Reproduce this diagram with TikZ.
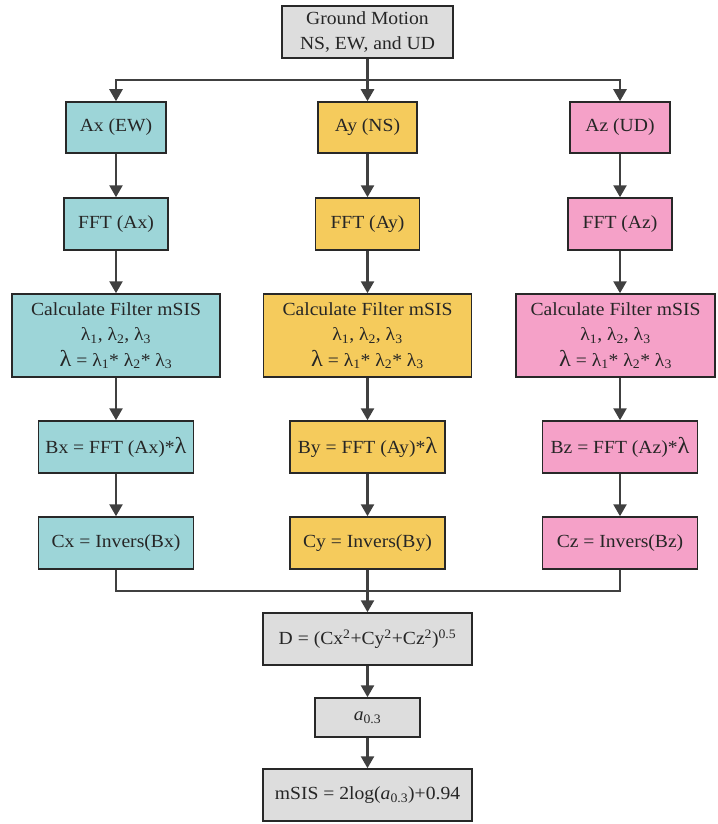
\documentclass[tikz,border=0pt]{standalone}
\usepackage{fontspec}
\setmainfont[FakeStretch=1.06]{Liberation Serif}
\usetikzlibrary{arrows.meta}
\definecolor{cteal}{RGB}{157,213,216}
\definecolor{cyell}{RGB}{245,203,92}
\definecolor{cpink}{RGB}{245,161,200}
\definecolor{cgray}{RGB}{221,221,221}
\definecolor{cline}{RGB}{64,64,64}
\definecolor{cbord}{RGB}{40,40,40}
\newcommand{\biglam}{{\fontsize{23}{23}\selectfont λ}}
\begin{document}
\begin{tikzpicture}[x=1pt,y=-1pt,
  box/.style={draw=cbord,line width=1.5pt,align=center,inner sep=0pt,
    font=\fontsize{18.5}{25.5}\selectfont,text=black!85},
  gbox/.style={box,fill=cgray},
  tbox/.style={box,fill=cteal},
  ybox/.style={box,fill=cyell},
  pbox/.style={box,fill=cpink},
  arr/.style={draw=cline,line width=2.5pt,-{Triangle[width=13pt,length=12pt]}},
  ln/.style={draw=cline,line width=2.5pt}]
\useasboundingbox (0,0) rectangle (717,824);
% top
\node[gbox,minimum width=171pt,minimum height=52pt] (top) at (367.5,32) {Ground Motion\\NS, EW, and UD};
\coordinate (split) at (367.5,80);
% row 1
\node[tbox,minimum width=100pt,minimum height=51pt] (Ax) at (116,127.5) {Ax (EW)};
\node[ybox,minimum width=99pt,minimum height=51pt] (Ay) at (367.5,127.5) {Ay (NS)};
\node[pbox,minimum width=100pt,minimum height=51pt] (Az) at (620,127.5) {Az (UD)};
% row 2
\node[tbox,minimum width=104pt,minimum height=52pt] (Fx) at (116,224) {FFT (Ax)};
\node[ybox,minimum width=104pt,minimum height=52pt] (Fy) at (367.5,224) {FFT (Ay)};
\node[pbox,minimum width=104pt,minimum height=52pt] (Fz) at (620,224) {FFT (Az)};
% row 3
\node[tbox,minimum width=208pt,minimum height=83pt] (Lx) at (116,335.5) {Calculate Filter mSIS\\λ\textsubscript{1}, λ\textsubscript{2}, λ\textsubscript{3}\\\biglam\ = λ\textsubscript{1}* λ\textsubscript{2}* λ\textsubscript{3}};
\node[ybox,minimum width=208pt,minimum height=83pt] (Ly) at (367.5,335.5) {Calculate Filter mSIS\\λ\textsubscript{1}, λ\textsubscript{2}, λ\textsubscript{3}\\\biglam\ = λ\textsubscript{1}* λ\textsubscript{2}* λ\textsubscript{3}};
\node[pbox,minimum width=199pt,minimum height=83pt] (Lz) at (615.5,335.5) {Calculate Filter mSIS\\λ\textsubscript{1}, λ\textsubscript{2}, λ\textsubscript{3}\\\biglam\ = λ\textsubscript{1}* λ\textsubscript{2}* λ\textsubscript{3}};
% row 4
\node[tbox,minimum width=155pt,minimum height=52pt] (Bx) at (116,447) {Bx = FFT (Ax)*\biglam};
\node[ybox,minimum width=155pt,minimum height=52pt] (By) at (367.5,447) {By = FFT (Ay)*\biglam};
\node[pbox,minimum width=155pt,minimum height=52pt] (Bz) at (620,447) {Bz = FFT (Az)*\biglam};
% row 5
\node[tbox,minimum width=155pt,minimum height=52pt] (Cx) at (116,543) {Cx = Invers(Bx)};
\node[ybox,minimum width=155pt,minimum height=52pt] (Cy) at (367.5,543) {Cy = Invers(By)};
\node[pbox,minimum width=155pt,minimum height=52pt] (Cz) at (620,543) {Cz = Invers(Bz)};
\coordinate (merge) at (367.5,591);
% bottom
\node[gbox,minimum width=209pt,minimum height=52pt] (D) at (367.5,639) {D = (Cx\textsuperscript{2}+Cy\textsuperscript{2}+Cz\textsuperscript{2})\textsuperscript{0.5}};
\node[gbox,minimum width=105pt,minimum height=39pt] (a) at (367.5,717.5) {\textit{a}\textsubscript{0.3}};
\node[gbox,minimum width=209pt,minimum height=52pt] (m) at (367.5,795) {mSIS = 2log(\textit{a}\textsubscript{0.3})+0.94};
% connectors
\draw[arr] (top.south) -- (Ay.north);
\draw[arr] (split) -| (Ax.north);
\draw[arr] (split) -| (Az.north);
\draw[arr] (Ax) -- (Fx);
\draw[arr] (Ay) -- (Fy);
\draw[arr] (Az) -- (Fz);
\draw[arr] (Fx) -- (Lx);
\draw[arr] (Fy) -- (Ly);
\draw[arr] (Fz.south) -- (Fz.south |- Lz.north);
\draw[arr] (Lx) -- (Bx);
\draw[arr] (Ly) -- (By);
\draw[arr] (Lz.south -| Bz.north) -- (Bz.north);
\draw[arr] (Bx) -- (Cx);
\draw[arr] (By) -- (Cy);
\draw[arr] (Bz) -- (Cz);
\draw[ln] (Cx.south) |- (merge) -| (Cz.south);
\draw[arr] (Cy.south) -- (D.north);
\draw[arr] (D) -- (a);
\draw[arr] (a) -- (m);
\end{tikzpicture}
\end{document}
